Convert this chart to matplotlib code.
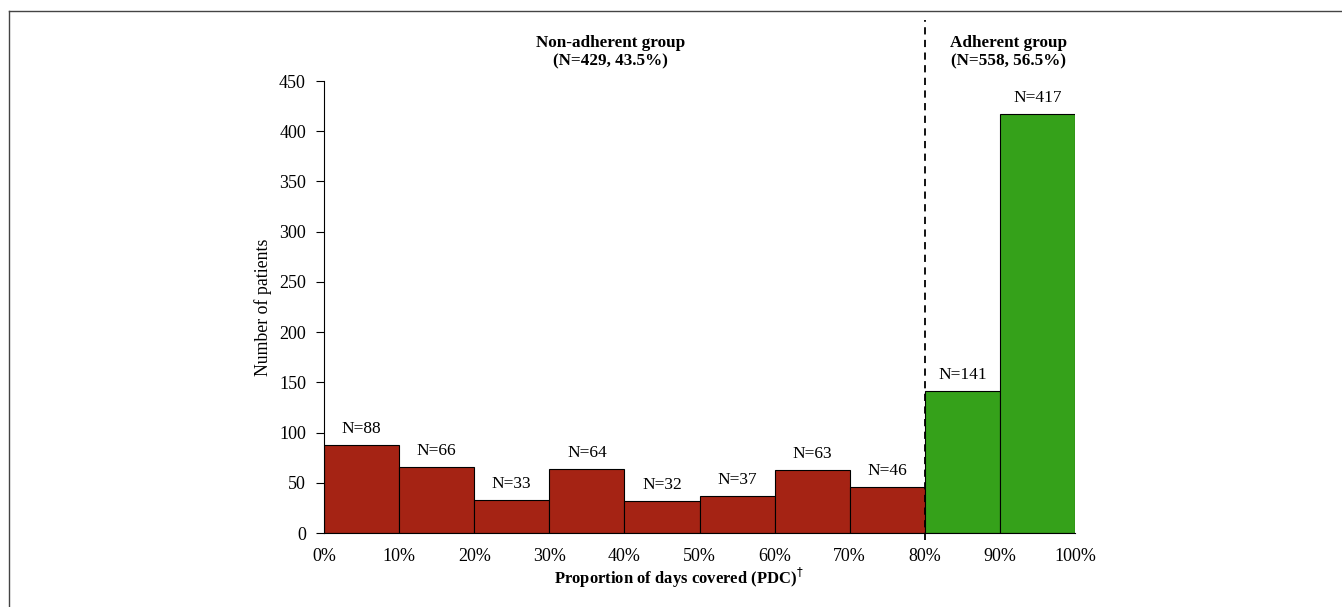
import matplotlib.pyplot as plt
import numpy as np

plt.rcParams['font.family'] = ['Liberation Serif', 'DejaVu Serif']

bin_edges = [0, 10, 20, 30, 40, 50, 60, 70, 80, 90, 100]
counts = [88, 66, 33, 64, 32, 37, 63, 46, 141, 417]
adherent = [False] * 8 + [True] * 2
xtick_labels = ['0%', '10%', '20%', '30%', '40%', '50%', '60%', '70%', '80%', '90%', '100%']
yticks = [0, 50, 100, 150, 200, 250, 300, 350, 400, 450]
cutoff = 80

red = '#a52314'
green = '#35a11a'

fig = plt.figure(figsize=(13.42, 6.07), dpi=100)
ax = fig.add_axes([324 / 1342, 1 - 533 / 607, 751 / 1342, 452 / 607])

lefts = np.array(bin_edges[:-1])
widths = np.diff(bin_edges)
cols = [green if a else red for a in adherent]
ax.bar(lefts, counts, width=widths, align='edge', color=cols,
       edgecolor='black', linewidth=0.8, zorder=2)

for x, w, c in zip(lefts, widths, counts):
    ax.text(x + w / 2, c + 8, 'N=%d' % c, ha='center', va='bottom', fontsize=12.5)

ax.axvline(cutoff, ymin=-7 / 450, ymax=511 / 450, color='black',
           linestyle=(0, (4, 3)), linewidth=1.3, clip_on=False, zorder=3)

ax.set_xlim(0, 100)
ax.set_ylim(0, 450)
ax.set_yticks(yticks)
ax.set_xticks(bin_edges)
ax.set_xticklabels(xtick_labels)
ax.tick_params(axis='x', length=0, pad=11, labelsize=13)
ax.tick_params(axis='y', length=6, width=0.8, direction='out', pad=7, labelsize=13)
for s in ['top', 'right']:
    ax.spines[s].set_visible(False)
ax.spines['left'].set_linewidth(0.8)
ax.spines['bottom'].set_linewidth(0.8)

ax.text(38.2, 479, 'Non-adherent group\n(N=429, 43.5%)', ha='center', va='center',
        fontsize=12.3, fontweight='bold', linespacing=1.2)
ax.text(91.2, 479, 'Adherent group\n(N=558, 56.5%)', ha='center', va='center',
        fontsize=12.3, fontweight='bold', linespacing=1.2)

ax.set_ylabel('Number of patients', fontsize=12.8)
ax.yaxis.set_label_coords(-52 / 751, 0.5)
ax.text(47.3, -45, 'Proportion of days covered (PDC)$^{\\dagger}$', ha='center', va='center',
        fontsize=12, fontweight='bold')

# frame lines of the original figure panel
fig.add_artist(plt.Line2D([9 / 1342, 1], [1 - 11 / 607, 1 - 11 / 607], color='#444444', linewidth=1))
fig.add_artist(plt.Line2D([9 / 1342, 9 / 1342], [0, 1 - 11 / 607], color='#444444', linewidth=1))

fig.savefig('out.png', dpi=100)
